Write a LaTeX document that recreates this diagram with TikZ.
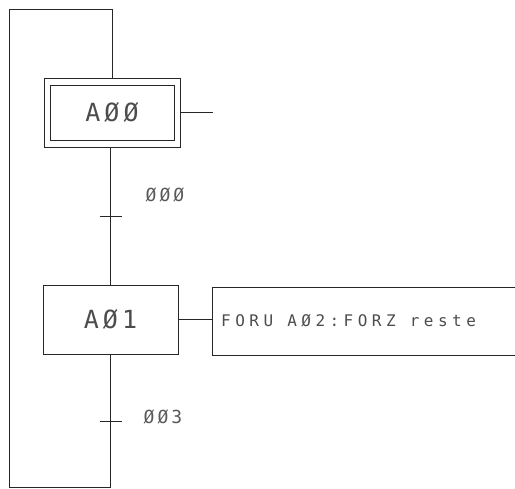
\documentclass[tikz,border=0pt]{standalone}
\usepackage{fontspec}
\newfontfamily\plotbig[LetterSpace=16]{DejaVu Sans Mono}
\newfontfamily\plotmid[LetterSpace=17]{DejaVu Sans Mono}
\newfontfamily\plotsmall[LetterSpace=28]{DejaVu Sans Mono}
\begin{document}
\begin{tikzpicture}[x=1pt,y=-1pt,
  line/.style={draw=black!85,line width=0.8pt},
  stepbox/.style={line,rectangle,minimum width=135pt,minimum height=69pt,inner sep=0pt,
     font=\plotbig\fontsize{25}{25}\selectfont,text=black!70},
  actbox/.style={line,rectangle,minimum width=305pt,minimum height=68pt,inner sep=0pt},
  cond/.style={font=\plotmid\fontsize{18}{18}\selectfont,text=black!65,inner sep=0pt},
  acttext/.style={font=\plotsmall\fontsize{16}{16}\selectfont,text=black!70,inner sep=0pt,anchor=west}]
\useasboundingbox (0,0) rectangle (515,489);
% step A00 (initial, double frame)
\node[stepbox,minimum width=136pt] (A00) at (112,112.5) {AØØ};
\node[line,rectangle,minimum width=124pt,minimum height=55pt,inner sep=0pt] (A00i) at (112,112.5) {};
% step A01
\node[stepbox] (A01) at (110.5,319.5) {AØ1};
% action box
\node[actbox,anchor=west] (act) at (212,321) {};
\node[acttext] (acttxt) at (221,321) {FORU AØ2:FORZ reste};
% transition labels
\node[cond] (t0) at (165,195) {ØØØ};
\node[cond] (t3) at (163,417) {ØØ3};
% coordinates
\coordinate (a00out) at (213,112.5);
\coordinate (tk0l) at (100,216);
\coordinate (tk0r) at (122,216);
\coordinate (tk3l) at (100,421);
\coordinate (tk3r) at (122,421);
\coordinate (tl) at (9,9);
\coordinate (bl) at (9,487);
% connectors
\draw[line] (A00.east) -- (a00out);
\draw[line] (A00.south -| A01.north) -- (A01.north);
\draw[line] (tk0l) -- (tk0r);
\draw[line] (A01.east) -- (act.west |- A01.east);
\draw[line] (tk3l) -- (tk3r);
\draw[line] (A01.south) -- (A01.south |- bl) -- (bl) -- (tl) -- (tl -| A00.north) -- (A00.north);
\end{tikzpicture}
\end{document}
